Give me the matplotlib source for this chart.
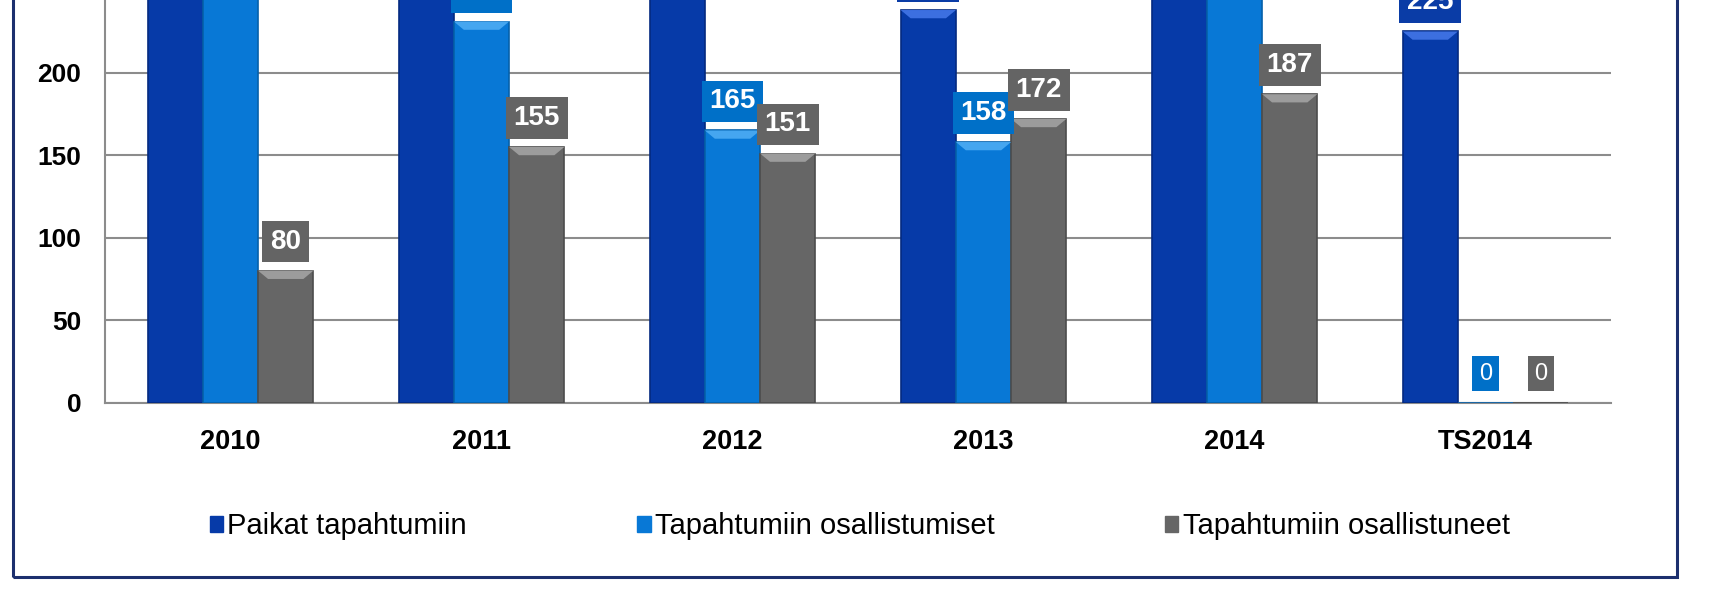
import matplotlib
matplotlib.use("Agg")
import matplotlib.pyplot as plt
import matplotlib.patches as mpatches
import numpy as np

plt.rcParams['font.family'] = ['Liberation Sans', 'DejaVu Sans']

# Categories and series (top part of the chart is cut off in the reference,
# so the tallest bars are estimates)
years = ['2010', '2011', '2012', '2013', '2014', 'TS2014']
paikat = [290, 300, 280, 238, 310, 225]
osallistumiset = [270, 231, 165, 158, 300, 0]
osallistuneet = [80, 155, 151, 172, 187, 0]
series_names = ['Paikat tapahtumiin', 'Tapahtumiin osallistumiset', 'Tapahtumiin osallistuneet']

bar_colors = ['#063aa8', '#0878d6', '#666666']
top_colors = ['#3c6fe0', '#45a6f0', '#9c9c9c']
box_colors = ['#0a3ca6', '#0070c8', '#646464']
edge_colors = ['#042a80', '#0560aa', '#4c4c4c']

fig = plt.figure(figsize=(17.3, 6), dpi=100)
# axes reaches above the figure: the reference is a crop of a taller chart
ax = fig.add_axes([0.0607, 0.3288, 0.8705, 0.9625])

x = np.arange(len(years))
width = 0.22
offsets = [-0.22, 0.0, 0.22]
all_series = [paikat, osallistumiset, osallistuneet]

for vals, off, c, tc, bc, ec, name in zip(all_series, offsets, bar_colors, top_colors,
                                          box_colors, edge_colors, series_names):
    bars = ax.bar(x + off, vals, width, color=c, edgecolor=ec, linewidth=1.2, label=name, zorder=3)
    for rect, v in zip(bars, vals):
        x0 = rect.get_x()
        w = rect.get_width()
        cx = x0 + w / 2
        if v > 0:
            # bevelled top of the bar
            h = 5
            ins = w * 0.18
            bevel = mpatches.Polygon([(x0, v), (x0 + w, v), (x0 + w - ins, v - h), (x0 + ins, v - h)],
                                     closed=True, fc=tc, ec='none', zorder=4)
            ax.add_patch(bevel)
            fs, fw = 20, 'bold'
        else:
            fs, fw = 17, 'normal'
        ax.annotate(str(v), (cx, v), xytext=(0, 21), textcoords='offset points',
                    ha='center', va='center', color='white', fontsize=fs, fontweight=fw,
                    bbox=dict(boxstyle='square,pad=0.28', fc=bc, ec='none'),
                    zorder=5, annotation_clip=False)

ax.set_xlim(-0.5, len(years) - 0.5)
ax.set_ylim(0, 350)
ax.set_yticks(np.arange(0, 351, 50))
ax.set_xticks(x)
ax.set_xticklabels(years, fontsize=19.5, fontweight='bold')
ax.tick_params(axis='y', labelsize=19, length=0, pad=17)
ax.tick_params(axis='x', length=0, pad=19)
for lab in ax.get_yticklabels():
    lab.set_fontweight('bold')

ax.grid(axis='y', color='#8c8c8c', linewidth=1.5, zorder=0)
ax.set_axisbelow(True)
for side in ['top', 'right']:
    ax.spines[side].set_visible(False)
ax.spines['left'].set_color('#8c8c8c')
ax.spines['bottom'].set_color('#8c8c8c')
ax.spines['left'].set_linewidth(1.5)
ax.spines['bottom'].set_linewidth(1.5)

handles = [mpatches.Patch(color=c) for c in bar_colors]
fig.legend(handles, series_names, loc='center', bbox_to_anchor=(0.497, 0.123),
           ncol=3, frameon=False, fontsize=21, handlelength=0.45, handleheight=0.45,
           handletextpad=0.15, columnspacing=5.85)

# outer frame of the chart area
frame = mpatches.Rectangle((0.0075, 0.039), 0.962, 1.2, transform=fig.transFigure,
                           fill=False, edgecolor='#1c2f6e', linewidth=2.2, clip_on=False)
fig.patches.append(frame)

fig.savefig('out.png', dpi=100)
